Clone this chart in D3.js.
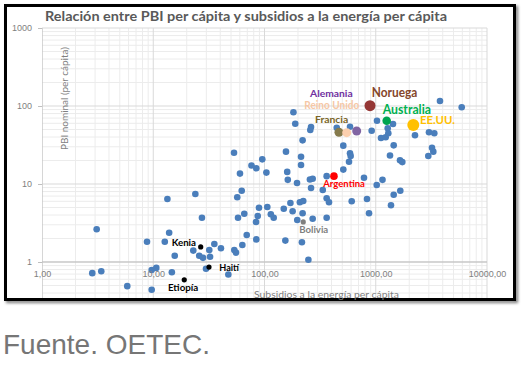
<!DOCTYPE html>
<html><head><meta charset="utf-8">
<script src="https://cdn.jsdelivr.net/npm/d3@7"></script>
<style>body{margin:0;background:#fff;} svg{display:block}</style>
</head><body>
<svg id="c" width="525" height="366"></svg>
<script>
// ---------- DATA ----------
const titulo = "Relación entre PBI per cápita y subsidios a la energía per cápita";
const tituloX = "Subsidios a la energía per cápita";
const tituloY = "PBI nominal (per cápita)";
const fuente = "Fuente. OETEC.";
const xTicks = [1, 10, 100, 1000, 10000];
const yTicks = [1, 10, 100, 1000];

// other countries (blue)
const subsidios = [3.10,2.83,3.41,5.84,8.79,9.68,10.65,9.68,13.4,12.7,
  13.9,15.6,14.7,23.9,27.4,22.9,25.9,28.0,31.9,35.4,
  32.4,40.6,29.8,47.3,53.5,55.4,63.2,69.2,84.4,57.8,
  65.8,83.9,86.9,89.2,106,114,121,56.9,62.4,60.2,
  84.4,53.2,76.4,95.5,104,182,189,262,258,220,
  156,213,213,160,162,196,256,271,262,446,
  587,511,587,595,575,511,362,784,1150,1020,
  919,1026,1115,1228,1281,1297,1429,1450,1343,1652,
  1733,2253,3010,3360,3203,3291,2967,3780,5925,334,
  362,380,608,834,870,1450,1662,1371,149,171,
  179,208,223,220,197,271,362,154,217,248];
const pbi = [2.63,0.72,0.76,0.49,1.82,0.79,0.84,0.44,6.42,1.82,
  2.37,1.20,0.74,7.44,3.70,1.40,1.20,1.13,1.42,1.70,
  1.17,1.50,0.82,0.69,1.42,1.32,1.65,2.22,1.95,3.70,
  4.16,3.26,3.89,4.97,5.07,4.09,3.70,6.75,8.21,13.6,
  15.9,25.2,17.3,20.7,14.0,83.0,59.3,53.8,49.2,36.3,
  26.0,22.4,17.5,14.3,11.3,10.3,11.4,11.7,8.89,52.7,
  54.3,31.0,24.8,22.9,19.3,15.3,12.6,12.0,11.3,9.71,
  48.2,64.8,38.9,39.7,51.8,44.7,58.8,31.3,23.2,20.1,
  19.1,42.1,46.0,44.7,29.2,26.0,22.9,116,96.2,8.38,
  6.56,5.83,6.00,6.42,4.21,7.29,8.21,5.33,4.82,5.71,
  4.47,5.83,6.05,4.21,3.46,3.59,3.70,1.88,1.79,1.07];

// highlighted countries
const paises = ["Francia","Reino Unido","Alemania","Noruega","Australia","EE.UU.","Argentina","Bolivia","Kenia","Haití","Etiopía"];
const paisesSubsidio = [467,548,674,888,1254,2175,421,223,26.7,31.7,19.0];
const paisesPbi = [46.0,45.5,47.8,101,64.8,57.1,12.6,3.26,1.56,0.86,0.59];

// ---------- STYLE ----------
const sty = {
  text:  ["#7a6527","#f6c7a5","#7030a0","#84462a","#00b050","#ffc000","#ff0000","#808080","#000","#000","#000"],
  dot:   ["#857a4c","#fbcfae","#8064a2","#953735","#00a550","#ffc000","#ff0000","#7f7f7f","#000","#000","#000"],
  r:     [4.5,4.5,4.5,5.5,4.3,6,3.8,2.6,2.6,2.6,2.6],
  fs:    [10,10.5,10,12.5,12.5,12,10,9.5,10,10,10],
  dx:    [-24,-42.4,-46.7,1.7,-4,6.7,-10.7,-4,-29,10.3,-16.3],
  dy:    [-9.6,-23.4,-34.3,-8.7,-6.7,-1,11.2,11,-0.5,4,11],
  len:   [33.3,55,42.7,45.6,48.3,35,41.7,29,24.3,19.7,30.3]
};

const svg = d3.select("#c");
const defs = svg.append("defs");
defs.append("filter").attr("id","sh").attr("x","-5%").attr("y","-5%").attr("width","110%").attr("height","110%")
  .append("feGaussianBlur").attr("stdDeviation",1.5);
defs.append("clipPath").attr("id","clip").append("rect")
  .attr("x",42).attr("y",27).attr("width",446).attr("height",271);

// frame
svg.append("rect").attr("x",7.5).attr("y",7.5).attr("width",509).attr("height",294)
  .attr("fill","none").attr("stroke","#777").attr("stroke-width",3).attr("filter","url(#sh)");
svg.append("rect").attr("x",5.5).attr("y",5.5).attr("width",509).attr("height",294)
  .attr("fill","#fff").attr("stroke","#000").attr("stroke-width",3);

const x = d3.scaleLog().domain([1,10000]).range([42,487]);
const y = d3.scaleLog().domain([0.1,1000]).range([340,28]);

const plot = svg.append("g").attr("clip-path","url(#clip)");
// grid
const minorX = [], minorY = [];
for (let k=0;k<4;k++) for (let m=2;m<10;m++) minorX.push(m*Math.pow(10,k));
for (let k=-1;k<3;k++) for (let m=2;m<10;m++) minorY.push(m*Math.pow(10,k));
plot.selectAll(".mx").data(minorX).join("line")
  .attr("x1",d=>x(d)).attr("x2",d=>x(d)).attr("y1",28).attr("y2",300)
  .attr("stroke","#ececec").attr("stroke-width",1);
plot.selectAll(".my").data(minorY).join("line")
  .attr("x1",42).attr("x2",487).attr("y1",d=>y(d)).attr("y2",d=>y(d))
  .attr("stroke","#ececec").attr("stroke-width",1);
plot.selectAll(".Mx").data(xTicks).join("line")
  .attr("x1",d=>x(d)).attr("x2",d=>x(d)).attr("y1",28).attr("y2",300)
  .attr("stroke","#d9d9d9").attr("stroke-width",1);
plot.selectAll(".My").data([0.1].concat(yTicks)).join("line")
  .attr("x1",42).attr("x2",487).attr("y1",d=>y(d)).attr("y2",d=>y(d))
  .attr("stroke","#d9d9d9").attr("stroke-width",1);
// axis lines
plot.append("line").attr("x1",42).attr("x2",42).attr("y1",28).attr("y2",300).attr("stroke","#bfbfbf");
plot.append("line").attr("x1",42).attr("x2",487).attr("y1",y(1)).attr("y2",y(1)).attr("stroke","#bfbfbf");

// axes
const yAx = svg.append("g").attr("transform","translate(42,0)")
  .call(d3.axisLeft(y).tickValues(yTicks).tickFormat(d3.format("d")).tickSize(4).tickPadding(6));
yAx.select(".domain").remove();
yAx.selectAll("line").attr("stroke","#bfbfbf");
yAx.selectAll("text").attr("fill","#7f7f7f").style("font","9px 'Liberation Sans', Arial, sans-serif");

const xAx = svg.append("g").attr("transform",`translate(0,${y(1)})`)
  .call(d3.axisBottom(x).tickValues(xTicks).tickFormat(d=>d.toFixed(2).replace(".",",")).tickSize(0).tickPadding(9));
xAx.select(".domain").remove();
xAx.selectAll("text").attr("fill","#7f7f7f").style("font","9px 'Liberation Sans', Arial, sans-serif");

// axis titles
svg.append("text").attr("transform","translate(68,98.5) rotate(-90)").attr("text-anchor","middle")
  .attr("fill","#7f7f7f").style("font","10px Lato, 'Open Sans', sans-serif")
  .attr("textLength",103).attr("lengthAdjust","spacingAndGlyphs").text(tituloY);
svg.append("text").attr("x",254).attr("y",297.5)
  .attr("fill","#7f7f7f").style("font","10px Lato, 'Open Sans', sans-serif")
  .attr("textLength",145).attr("lengthAdjust","spacingAndGlyphs").text(tituloX);

// title
svg.append("text").attr("x",45).attr("y",21)
  .attr("fill","#595959").style("font","bold 13.5px Lato, 'Open Sans', sans-serif")
  .attr("textLength",402).attr("lengthAdjust","spacingAndGlyphs").text(titulo);

// points
const pts = d3.zip(subsidios, pbi);
plot.selectAll(".p").data(pts).join("circle")
  .attr("cx",d=>x(d[0])).attr("cy",d=>y(d[1])).attr("r",3.3).attr("fill","#4a7ebb");

const dest = paises.map((n,i)=>({n, s:paisesSubsidio[i], v:paisesPbi[i], i}));
plot.selectAll(".d").data(dest).join("circle")
  .attr("cx",d=>x(d.s)).attr("cy",d=>y(d.v)).attr("r",d=>sty.r[d.i]).attr("fill",d=>sty.dot[d.i]);
svg.selectAll(".lbl").data(dest).join("text")
  .attr("x",d=>x(d.s)+sty.dx[d.i]).attr("y",d=>y(d.v)+sty.dy[d.i])
  .attr("fill",d=>sty.text[d.i])
  .style("font",d=>`bold ${sty.fs[d.i]}px Lato, 'Open Sans', sans-serif`)
  .attr("textLength",d=>sty.len[d.i]).attr("lengthAdjust","spacingAndGlyphs")
  .text(d=>d.n);

// source
svg.append("text").attr("x",3).attr("y",354).attr("fill","#767676")
  .style("font","28px 'Liberation Sans', Arial, sans-serif").text(fuente);
</script></body></html>
